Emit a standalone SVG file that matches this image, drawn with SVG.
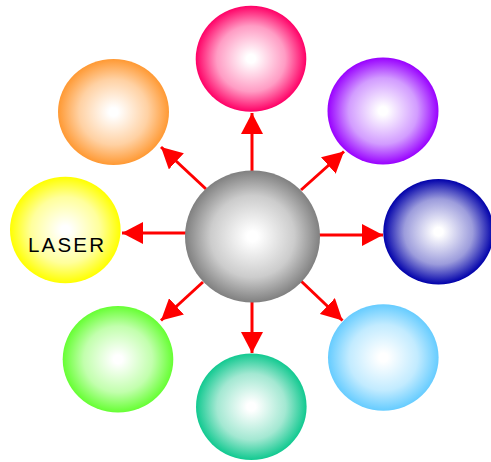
<svg xmlns="http://www.w3.org/2000/svg" width="491" height="462" viewBox="0 0 491 462">
<defs>
<style>
.c{stroke:#ff0000;stroke-width:3;fill:none;marker-end:url(#ah)}
.lbl{font-family:"Liberation Sans",Arial,sans-serif;font-size:20.5px;letter-spacing:2.2px;fill:#000}
</style>
<marker id="ah" markerUnits="userSpaceOnUse" markerWidth="22" markerHeight="22" refX="21" refY="11" orient="auto">
<path d="M0,0 L21,11 L0,22 z" fill="#ff0000"/>
</marker>
<radialGradient id="gPink"><stop offset="0.08" stop-color="#fff"/><stop offset="0.62" stop-color="#ff9cc4"/><stop offset="1" stop-color="#ff0066"/></radialGradient>
<radialGradient id="gPurple"><stop offset="0.08" stop-color="#fff"/><stop offset="0.62" stop-color="#d29cff"/><stop offset="1" stop-color="#9900ff"/></radialGradient>
<radialGradient id="gNavy"><stop offset="0.08" stop-color="#fff"/><stop offset="0.62" stop-color="#9c9cdc"/><stop offset="1" stop-color="#0000aa"/></radialGradient>
<radialGradient id="gSky"><stop offset="0.08" stop-color="#fff"/><stop offset="0.62" stop-color="#c2ebff"/><stop offset="1" stop-color="#66ccff"/></radialGradient>
<radialGradient id="gTeal"><stop offset="0.08" stop-color="#fff"/><stop offset="0.62" stop-color="#a3e8d2"/><stop offset="1" stop-color="#11c990"/></radialGradient>
<radialGradient id="gGreen"><stop offset="0.08" stop-color="#fff"/><stop offset="0.62" stop-color="#c2ffad"/><stop offset="1" stop-color="#66ff33"/></radialGradient>
<radialGradient id="gYellow"><stop offset="0.08" stop-color="#fff"/><stop offset="0.62" stop-color="#ffff9c"/><stop offset="1" stop-color="#ffff00"/></radialGradient>
<radialGradient id="gOrange"><stop offset="0.08" stop-color="#fff"/><stop offset="0.62" stop-color="#ffd1a3"/><stop offset="1" stop-color="#ff9933"/></radialGradient>
<radialGradient id="gGray"><stop offset="0.08" stop-color="#fff"/><stop offset="0.62" stop-color="#cccccc"/><stop offset="1" stop-color="#808080"/></radialGradient>
</defs>
<g id="connectors">
<line class="c" x1="252" y1="172" x2="252" y2="113"/>
<line class="c" x1="252" y1="300" x2="252" y2="353"/>
<line class="c" x1="186" y1="233" x2="122" y2="233"/>
<line class="c" x1="319" y1="235" x2="383" y2="235"/>
<line class="c" x1="206" y1="189" x2="161" y2="147"/>
<line class="c" x1="301" y1="190" x2="344" y2="151.5"/>
<line class="c" x1="203" y1="282" x2="161" y2="320.5"/>
<line class="c" x1="301" y1="281" x2="342.5" y2="320.5"/>
</g>
<g id="center"><ellipse cx="252.5" cy="236.5" rx="67.5" ry="66" fill="url(#gGray)"/></g>
<g id="pink"><ellipse cx="251" cy="58.7" rx="55.3" ry="53" fill="url(#gPink)"/></g>
<g id="purple"><ellipse cx="383" cy="111" rx="55.5" ry="53.5" fill="url(#gPurple)"/></g>
<g id="navy"><ellipse cx="438.5" cy="231.7" rx="55.2" ry="52.7" fill="url(#gNavy)"/></g>
<g id="sky"><ellipse cx="383.3" cy="357.5" rx="55.3" ry="53.2" fill="url(#gSky)"/></g>
<g id="teal"><ellipse cx="251.3" cy="406.7" rx="55.3" ry="53.3" fill="url(#gTeal)"/></g>
<g id="green"><ellipse cx="118" cy="359.3" rx="55.3" ry="53.3" fill="url(#gGreen)"/></g>
<g id="laser"><ellipse cx="65.3" cy="230" rx="55.3" ry="53.3" fill="url(#gYellow)"/><text class="lbl" x="28" y="251.7">LASER</text></g>
<g id="orange"><ellipse cx="113.5" cy="112" rx="55.5" ry="53" fill="url(#gOrange)"/></g>
</svg>
